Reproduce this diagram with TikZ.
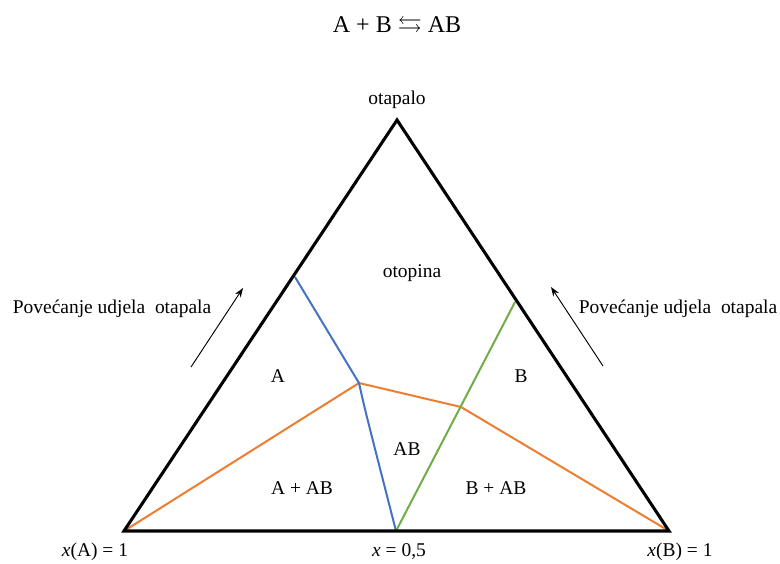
\documentclass[tikz,border=0pt]{standalone}
\usepackage{amssymb}
\usepackage{fontspec}
\setmainfont{Liberation Serif}
\usetikzlibrary{arrows.meta}
\begin{document}
\begin{tikzpicture}[x=0.75pt,y=-0.75pt,
  lbl/.style={inner sep=0pt,font=\fontsize{14.6}{17}\selectfont},
  tri/.style={line width=2.3pt,line join=miter},
  phase/.style={line width=1.5pt},
  dirarrow/.style={line width=0.7pt,-{Stealth[length=7pt,width=5pt]}}]
\useasboundingbox (0,0) rectangle (780,563);
% vertices and points
\coordinate (VA) at (124,531);
\coordinate (VB) at (669,531);
\coordinate (VT) at (397,120);
\coordinate (M) at (396,531);
\coordinate (BL) at (295,277);
\coordinate (E1) at (359,383);
\coordinate (E2) at (461,407);
\coordinate (GR) at (515,302);
% phase lines
\draw[phase,draw={rgb,255:red,237;green,125;blue,49}] (VA) -- (E1) -- (E2) -- (VB);
\draw[phase,draw={rgb,255:red,68;green,114;blue,196}] (BL) -- (E1) .. controls (365,410) .. (M);
\draw[phase,draw={rgb,255:red,112;green,173;blue,71}] (M) -- (GR);
% triangle
\draw[tri] (VA) -- (VT) -- (VB) -- cycle;
% labels
\node[lbl,font=\fontsize{18}{21}\selectfont] (title) at (397,27) {A + B $\leftrightarrows$ AB};
\node[lbl] (top) at (397,100) {otapalo};
\node[lbl] (sol) at (412,273) {otopina};
\node[lbl] (la) at (278,376) {A};
\node[lbl] (lb) at (521,376) {B};
\node[lbl] (lab) at (407,449) {AB};
\node[lbl] (laab) at (302,488) {A + AB};
\node[lbl] (lbab) at (496,488) {B + AB};
\node[lbl] (xa) at (95,552) {\textit{x}(A) = 1};
\node[lbl] (xm) at (399,552) {\textit{x} = 0,5};
\node[lbl] (xb) at (680,552) {\textit{x}(B) = 1};
\node[lbl] (incl) at (112,309) {Povećanje udjela\ \ otapala};
\node[lbl] (incr) at (678,309) {Povećanje udjela\ \ otapala};
% direction arrows
\coordinate (al0) at (191,367);
\coordinate (al1) at (243,288);
\coordinate (ar0) at (603,366);
\coordinate (ar1) at (551,287);
\draw[dirarrow] (al0) -- (al1);
\draw[dirarrow] (ar0) -- (ar1);
\end{tikzpicture}
\end{document}
